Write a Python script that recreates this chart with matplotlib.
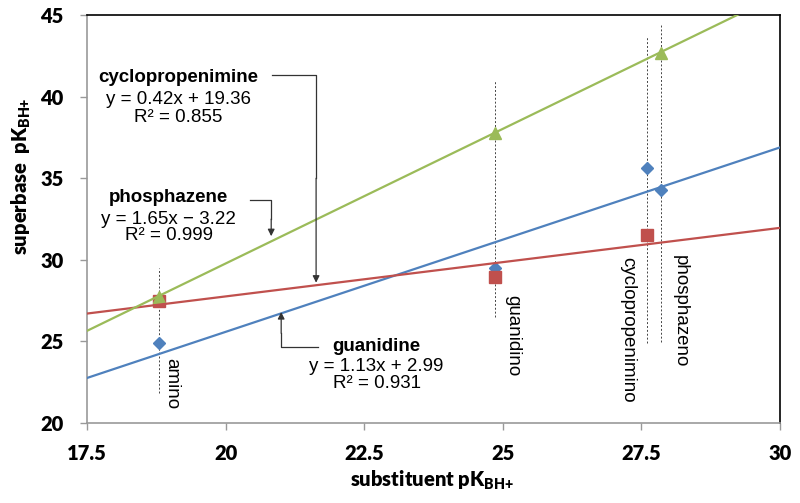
import numpy as np
import matplotlib
matplotlib.use("Agg")
from matplotlib import pyplot as plt

plt.rcParams['mathtext.fontset'] = 'custom'
plt.rcParams['mathtext.rm'] = 'Lato'
plt.rcParams['mathtext.bf'] = 'Lato:heavy'

# substituent pKBH+ (x) for each substituent
substituents = ['amino', 'guanidino', 'cyclopropenimino', 'phosphazeno']
x_sub = [18.8, 24.85, 27.6, 27.85]

# superbase pKBH+ values
guan_x = [18.8, 24.85, 27.6, 27.85]
guan_y = [24.9, 29.5, 35.6, 34.3]
cyc_x = [18.8, 24.85, 27.6]
cyc_y = [27.5, 28.95, 31.55]
phos_x = [18.8, 24.85, 27.85]
phos_y = [27.7, 37.8, 42.7]

# linear fits (slope, intercept, R^2)
fit_guan = (1.13, 2.99, 0.931)
fit_cyc = (0.42, 19.36, 0.855)
fit_phos = (1.65, -3.22, 0.999)

xticks = [17.5, 20, 22.5, 25, 27.5, 30]
xlabels = ['17.5', '20', '22.5', '25', '27.5', '30']
yticks = [20, 25, 30, 35, 40, 45]

blue = '#4F81BD'
red = '#C0504D'
green = '#9BBB59'

fig = plt.figure(figsize=(8, 5.03), dpi=100)
ax = fig.add_axes([0.109, 0.159, 0.866, 0.811])

# dotted guides for each substituent
vl_top = [29.5, 41.0, 43.7, 44.45]
vl_bot = [21.84, 26.5, 24.9, 24.96]
for xs, t, b in zip(x_sub, vl_top, vl_bot):
    ax.plot([xs, xs], [b, t], ls=(0, (2, 2)), color='#444444', lw=0.7, zorder=1)

ax.plot(guan_x, guan_y, 'D', color=blue, ms=6, mec=blue, zorder=2)
ax.plot(cyc_x, cyc_y, 's', color=red, ms=8, mec=red, zorder=2)
ax.plot(phos_x, phos_y, '^', color=green, ms=8, mec=green, zorder=2)

xx = np.array([17.5, 30])
for (m, b, r2), col in [(fit_guan, blue), (fit_cyc, red), (fit_phos, green)]:
    ax.plot(xx, m * xx + b, color=col, lw=1.6, zorder=3)

tick_font = dict(fontfamily='Lato', fontweight='heavy', fontsize=14.5)
ax.set_xlim(17.5, 30)
ax.set_ylim(20, 45)
ax.set_xticks(xticks)
ax.set_xticklabels(xlabels, **tick_font)
ax.set_yticks(yticks)
ax.set_yticklabels([str(v) for v in yticks], **tick_font)
ax.tick_params(axis='both', direction='out', length=5, width=1, color='#999999')
ax.tick_params(axis='x', pad=10)
ax.tick_params(axis='y', pad=12)
ax.spines['left'].set_color('#999999')
ax.spines['bottom'].set_color('#999999')
ax.spines['top'].set_color('black')
ax.spines['right'].set_color('black')
for s in ax.spines.values():
    s.set_linewidth(1.2)

ax.set_xlabel(r'substituent pK$_{\mathbf{BH{+}}}$', family='Lato', fontweight='heavy', fontsize=14.5)
ax.set_ylabel(r'superbase  pK$_{\mathbf{BH{+}}}$', family='Lato', fontweight='heavy', fontsize=14.5)
ax.xaxis.set_label_coords(0.498, -0.112)
ax.yaxis.set_label_coords(-0.078, 0.605)

# rotated substituent names
lab_x = [19.03, 25.17, 27.26, 28.2]
lab_top = [23.98, 27.84, 30.17, 30.29]
for name, lx, lt in zip(substituents, lab_x, lab_top):
    ax.text(lx, lt, name, rotation=270, ha='center', va='top',
            family='Liberation Sans', fontsize=13.5)

tf = dict(family='Liberation Sans', fontsize=13.5, ha='center', va='center')

def fit_text(name, fit, cx, ys):
    m, b, r2 = fit
    sign = '+' if b >= 0 else '\u2212'
    ax.text(cx, ys[0], name, fontweight='bold', **tf)
    ax.text(cx, ys[1], 'y = %.2fx %s %.2f' % (m, sign, abs(b)), **tf)
    ax.text(cx, ys[2], 'R\u00b2 = %.3f' % r2, **tf)

fit_text('cyclopropenimine', fit_cyc, 19.14, [41.2, 39.8, 38.75])
fit_text('phosphazene', fit_phos, 18.97, [33.85, 32.5, 31.5])
fit_text('guanidine', fit_guan, 22.72, [24.7, 23.45, 22.4])

lc = '#333333'
arr = dict(arrowstyle='-|>', color=lc, lw=0.9, mutation_scale=10, shrinkA=0, shrinkB=0)
# cyclopropenimine leader
ax.plot([20.84, 21.63, 21.63], [41.32, 41.32, 35.0], color=lc, lw=0.9)
ax.annotate('', xy=(21.63, 28.6), xytext=(21.63, 35.0), arrowprops=arr)
# phosphazene leader
ax.plot([20.44, 20.82, 20.82], [33.66, 33.66, 32.5], color=lc, lw=0.9)
ax.annotate('', xy=(20.82, 31.45), xytext=(20.82, 32.5), arrowprops=arr)
# guanidine leader
ax.plot([21.67, 21.0, 21.0], [24.66, 24.66, 25.5], color=lc, lw=0.9)
ax.annotate('', xy=(21.0, 26.8), xytext=(21.0, 25.5), arrowprops=arr)

fig.savefig('out.png', dpi=100)
